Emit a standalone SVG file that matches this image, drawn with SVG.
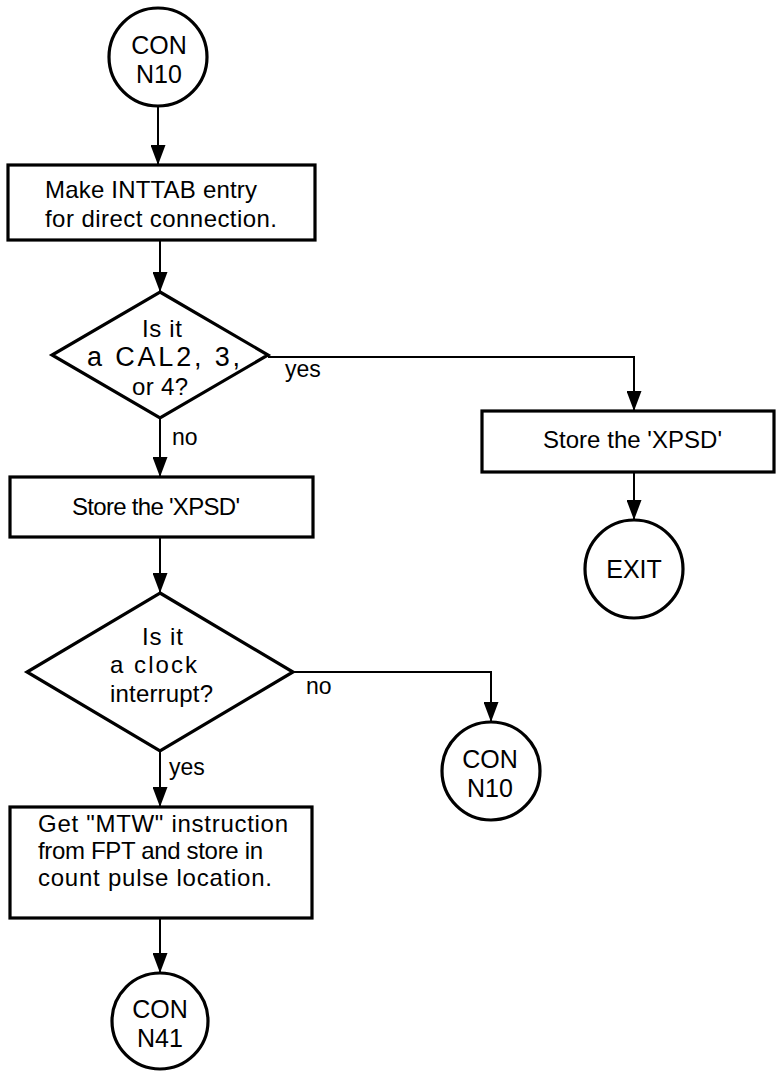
<svg xmlns="http://www.w3.org/2000/svg" width="776" height="1074" viewBox="0 0 776 1074">
<style>
.shape{fill:#fff;stroke:#000;stroke-width:3.2}
.conn{fill:none;stroke:#000;stroke-width:2}
text{font-family:"Liberation Sans",Arial,sans-serif;font-size:24px;fill:#000}
.c{text-anchor:middle;font-size:25px}
.lbl{font-size:23px}
.wide{font-size:27px}
</style>
<defs>
<marker id="ah" markerUnits="userSpaceOnUse" markerWidth="20" markerHeight="15" refX="20" refY="7.5" orient="auto">
<path d="M0,0 L20,7.5 L0,15 z" fill="#000"/>
</marker>
</defs>
<rect width="776" height="1074" fill="#fff"/>
<g id="connectors">
<line class="conn" x1="158" y1="106" x2="158" y2="165" marker-end="url(#ah)"/>
<line class="conn" x1="160" y1="240" x2="160" y2="292" marker-end="url(#ah)"/>
<polyline class="conn" points="268,357 634,357 634,411" marker-end="url(#ah)"/>
<line class="conn" x1="634" y1="472" x2="634" y2="520" marker-end="url(#ah)"/>
<line class="conn" x1="160" y1="418" x2="160" y2="477" marker-end="url(#ah)"/>
<line class="conn" x1="160" y1="537" x2="160" y2="593" marker-end="url(#ah)"/>
<polyline class="conn" points="293,672 491,672 491,722" marker-end="url(#ah)"/>
<line class="conn" x1="160" y1="751" x2="160" y2="807" marker-end="url(#ah)"/>
<line class="conn" x1="160" y1="918" x2="160" y2="973" marker-end="url(#ah)"/>
<text class="lbl" x="285" y="377">yes</text>
<text class="lbl" x="172" y="445">no</text>
<text class="lbl" x="306" y="694">no</text>
<text class="lbl" x="169" y="775">yes</text>
</g>
<g id="start">
<circle class="shape" cx="158" cy="57" r="49"/>
<text class="c" x="159" y="54">CON</text>
<text class="c" x="159" y="83">N10</text>
</g>
<g id="make-inttab">
<rect class="shape" x="8" y="165" width="307" height="75"/>
<text x="45" y="198" textLength="212">Make INTTAB entry</text>
<text x="45" y="227" textLength="232">for direct connection.</text>
</g>
<g id="is-cal">
<polygon class="shape" points="160,292 268,355 160,418 52,355"/>
<text x="142" y="337" textLength="40">Is it</text>
<text class="wide" x="87" y="366" textLength="153">a CAL2, 3,</text>
<text x="132" y="395" textLength="56">or 4?</text>
</g>
<g id="store-xpsd-right">
<rect class="shape" x="482" y="411" width="292" height="61"/>
<text x="543" y="448" textLength="179">Store the 'XPSD'</text>
</g>
<g id="exit">
<circle class="shape" cx="634" cy="569" r="49"/>
<text class="c" x="634" y="578">EXIT</text>
</g>
<g id="store-xpsd-left">
<rect class="shape" x="10" y="477" width="303" height="60"/>
<text x="72" y="515" textLength="168">Store the 'XPSD'</text>
</g>
<g id="is-clock">
<polygon class="shape" points="160,593 293,672 160,751 27,672"/>
<text x="142" y="645" textLength="41">Is it</text>
<text x="110" y="673" textLength="87">a clock</text>
<text x="110" y="702" textLength="103">interrupt?</text>
</g>
<g id="con-n10">
<circle class="shape" cx="491" cy="771" r="49"/>
<text class="c" x="490" y="768">CON</text>
<text class="c" x="490" y="797">N10</text>
</g>
<g id="get-mtw">
<rect class="shape" x="10" y="807" width="302" height="111"/>
<text x="38" y="832" textLength="250">Get "MTW" instruction</text>
<text x="38" y="859" textLength="225">from FPT and store in</text>
<text x="38" y="886" textLength="234">count pulse location.</text>
</g>
<g id="con-n41">
<circle class="shape" cx="160" cy="1021" r="48"/>
<text class="c" x="160" y="1018">CON</text>
<text class="c" x="160" y="1047">N41</text>
</g>
</svg>
